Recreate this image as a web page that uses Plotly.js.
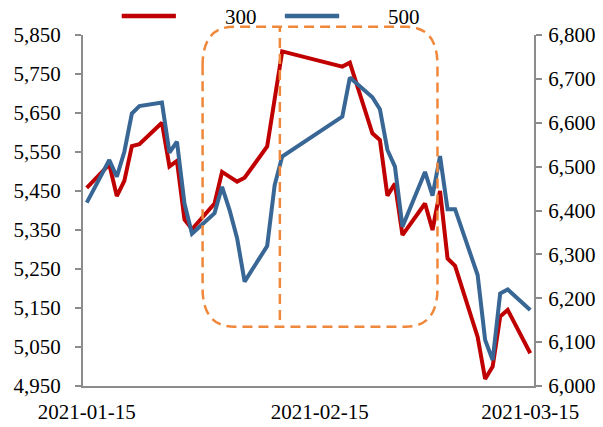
<!DOCTYPE html>
<html>
<head>
<meta charset="utf-8">
<script src="https://cdn.plot.ly/plotly-3.0.1.min.js"></script>
<style>html,body{margin:0;padding:0;background:#fff;}#chart{width:603px;height:427px;}</style>
</head>
<body>
<div id="chart"></div>
<script>
var dates = ["2021-01-15","2021-01-18","2021-01-19","2021-01-20","2021-01-21","2021-01-22",
  "2021-01-25","2021-01-26","2021-01-27","2021-01-28","2021-01-29",
  "2021-02-01","2021-02-02","2021-02-03","2021-02-04","2021-02-05",
  "2021-02-08","2021-02-09","2021-02-10","2021-02-18","2021-02-19",
  "2021-02-22","2021-02-23","2021-02-24","2021-02-25","2021-02-26",
  "2021-03-01","2021-03-02","2021-03-03","2021-03-04","2021-03-05",
  "2021-03-08","2021-03-09","2021-03-10","2021-03-11","2021-03-12","2021-03-15"];
var csi300 = [5458,5518,5437,5476,5565,5570,5625,5513,5527,5377,5352,
  5418,5499,5487,5474,5484,5564,5686,5808,5769,5779,
  5598,5581,5438,5469,5337,5418,5350,5450,5277,5258,
  5076,4968,5000,5128,5145,5034];
var csi500 = [6418,6515,6477,6534,6621,6638,6646,6532,6557,6416,6347,
  6394,6454,6401,6337,6238,6319,6458,6523,6614,6703,
  6658,6631,6538,6500,6363,6488,6434,6524,6403,6403,
  6253,6105,6059,6211,6220,6173];
var seriesNames = ["300","500"];
var seriesColors = ["#C00000","#386695"];
var xTickVals = ["2021-01-15","2021-02-15","2021-03-15"];
var xTickText = ["2021-01-15","2021-02-15","2021-03-15"];
var leftTicks = [4950,5850,100];
var rightTicks = [6000,6800,100];

var FONT = "'Liberation Serif', 'Times New Roman', serif";
var axisCol = "#8c8c8c";
var orange = "#F0883C";

var traces = [
  {x: dates, y: csi300, name: seriesNames[0], type: "scatter", mode: "lines",
   line: {color: seriesColors[0], width: 4}, yaxis: "y"},
  {x: dates, y: csi500, name: seriesNames[1], type: "scatter", mode: "lines",
   line: {color: seriesColors[1], width: 4}, yaxis: "y2"}
];

// rounded dashed box (paper coordinates)
var bx0 = 0.2652, bx1 = 0.786, byb = 0.169, byt = 1.0236, rx = 0.07, ry = 0.11;
var boxPath = "M" + bx0 + "," + (byt - ry) +
  " L" + bx0 + "," + (byb + ry) +
  " Q" + bx0 + "," + byb + " " + (bx0 + rx) + "," + byb +
  " L" + (bx1 - rx) + "," + byb +
  " Q" + bx1 + "," + byb + " " + bx1 + "," + (byb + ry) +
  " L" + bx1 + "," + (byt - ry) +
  " Q" + bx1 + "," + byt + " " + (bx1 - rx) + "," + byt +
  " L" + (bx0 + rx) + "," + byt +
  " Q" + bx0 + "," + byt + " " + bx0 + "," + (byt - ry) + " Z";

// legend (drawn manually)
var legY = 1.054;
var legLines = [[0.0858, 0.206], [0.4476, 0.568]];
var legTextX = [0.3124, 0.673];

var shapes = [
  {type: "path", xref: "paper", yref: "paper", path: boxPath,
   line: {color: orange, width: 2.5, dash: "10px,6px"}, layer: "above"},
  {type: "line", xref: "paper", yref: "paper", x0: 0.4365, x1: 0.4365, y0: 0.188, y1: byt,
   line: {color: orange, width: 2.5, dash: "10px,6px"}, layer: "above"}
];
var annotations = [];
for (var i = 0; i < seriesNames.length; i++) {
  shapes.push({type: "line", xref: "paper", yref: "paper", x0: legLines[i][0], x1: legLines[i][1],
    y0: legY, y1: legY, line: {color: seriesColors[i], width: 4.5}});
  annotations.push({xref: "paper", yref: "paper", x: legTextX[i], y: legY - 0.004,
    xanchor: "left", yanchor: "middle", showarrow: false, text: seriesNames[i],
    font: {family: FONT, size: 21, color: "#000"}, borderpad: 0});
}

var layout = {
  width: 603, height: 427,
  margin: {l: 83, r: 69, t: 35, b: 41},
  paper_bgcolor: "#fff", plot_bgcolor: "#fff",
  font: {family: FONT, size: 21, color: "#000"},
  showlegend: false,
  xaxis: {type: "date", range: ["2021-01-14 12:00", "2021-03-15 12:00"],
    tickvals: xTickVals, ticktext: xTickText, ticks: "", showgrid: false,
    showline: true, linecolor: axisCol, linewidth: 2, zeroline: false,
    ticklabelstandoff: 6, automargin: false,
    tickfont: {family: FONT, size: 21, color: "#000"}},
  yaxis: {range: [leftTicks[0], leftTicks[1]], dtick: leftTicks[2], tick0: leftTicks[0],
    tickformat: ",d", ticks: "outside", ticklen: 6, tickwidth: 2, tickcolor: axisCol,
    showline: true, linecolor: axisCol, linewidth: 2, showgrid: false, zeroline: false,
    ticklabelstandoff: 10, automargin: false, tickfont: {family: FONT, size: 21, color: "#000"}},
  yaxis2: {range: [rightTicks[0], rightTicks[1]], dtick: rightTicks[2], tick0: rightTicks[0],
    tickformat: ",d", overlaying: "y", side: "right", ticks: "outside", ticklen: 6,
    tickwidth: 2, tickcolor: axisCol, showline: true, linecolor: axisCol, linewidth: 2,
    showgrid: false, zeroline: false, ticklabelstandoff: 2, automargin: false,
    tickfont: {family: FONT, size: 21, color: "#000"}},
  shapes: shapes,
  annotations: annotations
};

Plotly.newPlot("chart", traces, layout, {displayModeBar: false, staticPlot: true});
</script>
</body>
</html>
